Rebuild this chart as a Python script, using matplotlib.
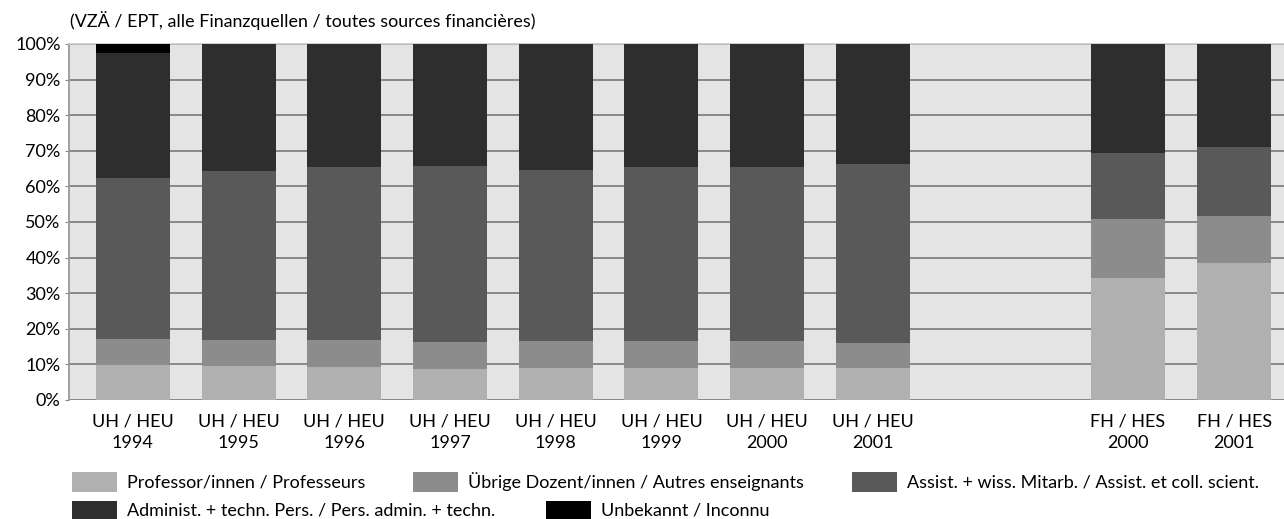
import numpy as np
import matplotlib
matplotlib.use('Agg')
import matplotlib.pyplot as plt
from matplotlib.patches import Rectangle

plt.rcParams['font.family'] = ['Lato', 'DejaVu Sans']

# 数据（百分比）
kategorien = ['UH / HEU\n1994', 'UH / HEU\n1995', 'UH / HEU\n1996', 'UH / HEU\n1997',
              'UH / HEU\n1998', 'UH / HEU\n1999', 'UH / HEU\n2000', 'UH / HEU\n2001',
              'FH / HES\n2000', 'FH / HES\n2001']
professoren = [9.8, 9.5, 9.3, 8.8, 9.1, 9.1, 9.1, 8.9, 34.4, 38.6]
uebrige = [7.3, 7.3, 7.5, 7.6, 7.6, 7.6, 7.6, 7.1, 16.5, 13.2]
assistenten = [45.3, 47.5, 48.6, 49.3, 47.9, 48.7, 48.7, 50.3, 18.6, 19.4]
administration = [35.1, 35.7, 34.6, 34.3, 35.4, 34.6, 34.6, 33.7, 30.5, 28.8]
unbekannt = [2.5, 0, 0, 0, 0, 0, 0, 0, 0, 0]

serien = [professoren, uebrige, assistenten, administration, unbekannt]
namen = ['Professor/innen / Professeurs',
         'Übrige Dozent/innen / Autres enseignants',
         'Assist. + wiss. Mitarb. / Assist. et coll. scient.',
         'Administ. + techn. Pers. / Pers. admin. + techn.',
         'Unbekannt / Inconnu']
farben = ['#b0b0b0', '#8c8c8c', '#595959', '#2e2e2e', '#000000']

# x位置：UH 连续，FH 之后留空
x = np.concatenate([np.arange(8), [9.41, 10.42]])

fig = plt.figure(figsize=(12.84, 5.19), dpi=100)
ax = fig.add_axes([69 / 1284, 1 - 400 / 519, 1 - 69 / 1284, 356 / 519])
ax.set_facecolor('#e4e4e4')

unten = np.zeros(len(x))
for werte, farbe in zip(serien, farben):
    werte = np.array(werte)
    ax.bar(x, werte, bottom=unten, width=0.70, color=farbe, linewidth=0, zorder=3)
    unten += werte

ax.set_xlim(-0.605, 10.89)
ax.set_ylim(0, 100)
ax.set_yticks(np.arange(0, 101, 10))
ax.set_yticklabels([f'{v}%' for v in range(0, 101, 10)], fontsize=13)
ax.yaxis.grid(True, color='#888888', linewidth=1.4, zorder=1)
ax.set_axisbelow(True)
ax.tick_params(axis='y', length=3, color='#888888', pad=3)
ax.set_xticks(x)
ax.set_xticklabels(kategorien, fontsize=13, linespacing=1.4)
ax.tick_params(axis='x', length=0, pad=10)

for s in ['right', 'bottom']:
    ax.spines[s].set_visible(False)
ax.spines['top'].set_color('#c8c8c8')
ax.spines['top'].set_linewidth(1.2)
ax.spines['left'].set_color('#9a9a9a')
ax.spines['left'].set_linewidth(1.3)

fig.text(70 / 1284, 1 - 21 / 519, '(VZÄ / EPT, alle Finanzquellen / toutes sources financières)',
         fontsize=12.9, va='center', ha='left')

# 图例（手动排布）
leg_pos = [(72, 482), (413, 482), (852, 482), (72, 511), (546, 511)]
for (px, py), name, farbe in zip(leg_pos, namen, farben):
    fig.add_artist(Rectangle((px / 1284, 1 - (py + 10) / 519), 45 / 1284, 20 / 519,
                             transform=fig.transFigure, color=farbe, linewidth=0))
    fig.text((px + 55) / 1284, 1 - py / 519, name, fontsize=13, va='center', ha='left')

fig.savefig('out.png', dpi=100)
